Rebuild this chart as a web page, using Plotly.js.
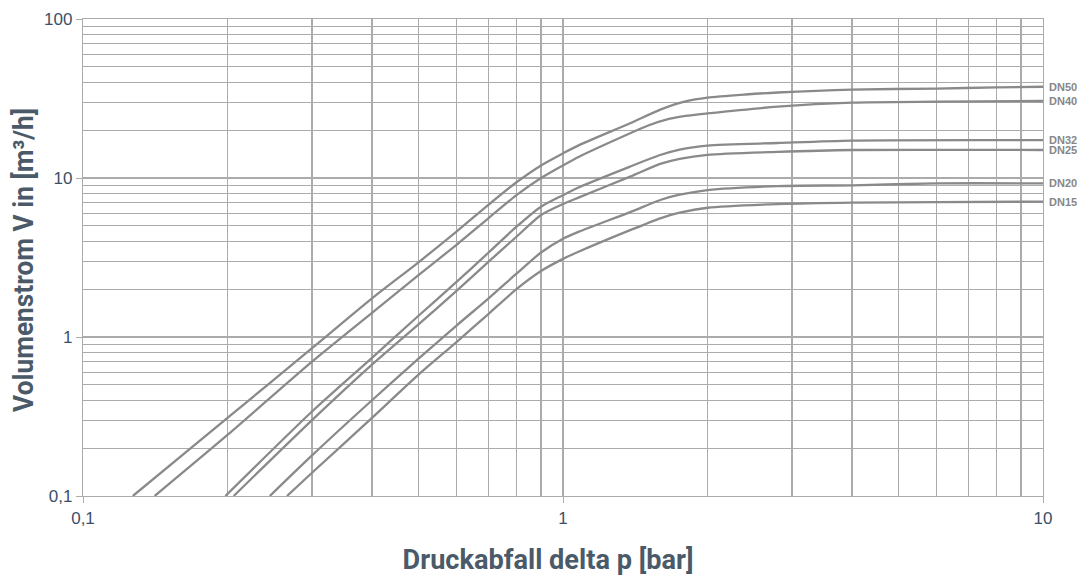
<!DOCTYPE html>
<html>
<head>
<meta charset="utf-8">
<script src="https://cdn.plot.ly/plotly-3.0.1.min.js"></script>
<style>
  html, body { margin: 0; padding: 0; background: #ffffff; }
  #chart { width: 1082px; height: 579px; }
</style>
</head>
<body>
<div id="chart"></div>
<script>
// Series names (label text at the right end of each curve)
const seriesNames = ["DN50", "DN40", "DN32", "DN25", "DN20", "DN15"];

// Druckabfall delta p [bar] (x) and Volumenstrom [m3/h] (y)
const dn50_x = [0.127, 0.2, 0.3, 0.4, 0.5, 0.6, 0.7, 0.8, 0.9, 1.0, 1.08, 1.38, 1.6, 1.8, 2.0, 2.4, 2.8, 4.0, 6.0, 8.0, 10.0];
const dn50_y = [0.1, 0.31, 0.85, 1.75, 2.95, 4.6, 6.8, 9.4, 12.0, 14.3, 16.1, 22.1, 27.0, 30.3, 32.0, 33.5, 34.5, 36.0, 36.5, 37.2, 37.5];

const dn40_x = [0.141, 0.2, 0.3, 0.4, 0.5, 0.6, 0.7, 0.8, 0.9, 1.0, 1.08, 1.38, 1.5, 1.67, 1.8, 2.0, 2.8, 4.0, 6.0, 10.0];
const dn40_y = [0.1, 0.242, 0.70, 1.42, 2.45, 3.8, 5.6, 7.8, 10.0, 12.0, 13.6, 19.1, 21.3, 23.6, 24.6, 25.5, 28.1, 29.8, 30.2, 30.5];

const dn32_x = [0.198, 0.3, 0.4, 0.5, 0.6, 0.7, 0.8, 0.9, 1.0, 1.08, 1.38, 1.6, 1.75, 2.0, 2.8, 4.0, 10.0];
const dn32_y = [0.1, 0.34, 0.74, 1.36, 2.22, 3.4, 4.94, 6.6, 7.8, 8.74, 11.8, 14.0, 15.1, 16.0, 16.6, 17.2, 17.3];

const dn25_x = [0.206, 0.3, 0.4, 0.5, 0.6, 0.7, 0.8, 0.9, 1.0, 1.08, 1.38, 1.6, 1.75, 2.0, 2.8, 4.0, 10.0];
const dn25_y = [0.1, 0.30, 0.67, 1.2, 1.95, 2.98, 4.27, 5.85, 6.86, 7.56, 10.2, 12.3, 13.2, 14.0, 14.6, 15.0, 15.0];

const dn20_x = [0.245, 0.3, 0.4, 0.5, 0.6, 0.7, 0.8, 0.9, 1.0, 1.08, 1.38, 1.6, 1.75, 2.0, 2.8, 4.0, 6.0, 10.0];
const dn20_y = [0.1, 0.18, 0.40, 0.73, 1.18, 1.75, 2.5, 3.4, 4.15, 4.6, 6.1, 7.3, 7.85, 8.4, 8.9, 9.0, 9.25, 9.25];

const dn15_x = [0.266, 0.3, 0.4, 0.5, 0.6, 0.7, 0.8, 0.9, 1.0, 1.08, 1.38, 1.6, 1.75, 2.0, 2.8, 4.0, 6.0, 10.0];
const dn15_y = [0.1, 0.14, 0.31, 0.58, 0.93, 1.4, 2.0, 2.6, 3.1, 3.45, 4.7, 5.6, 6.05, 6.5, 6.85, 7.0, 7.05, 7.1];

// Tick labels
const xTickVals = [0.1, 1, 10];
const xTickText = ["0,1", "1", "10"];
const yTickVals = [0.1, 1, 10, 100];
const yTickText = ["0,1", "1", "10", "100"];
const xMinorVals = [0.2,0.3,0.4,0.5,0.6,0.7,0.8,0.9,2,3,4,5,6,7,8,9];
const yMinorVals = [0.2,0.3,0.4,0.5,0.6,0.7,0.8,0.9,2,3,4,5,6,7,8,9,20,30,40,50,60,70,80,90];

const xTitleText = "Druckabfall delta p [bar]";
const yTitleText = "Volumenstrom V in [m³/h]";

const xs = [dn50_x, dn40_x, dn32_x, dn25_x, dn20_x, dn15_x];
const ys = [dn50_y, dn40_y, dn32_y, dn25_y, dn20_y, dn15_y];

const lineColor = "#8a8a8a";
const gridColor = "#ababab";
const tickFontColor = "#3c5068";
const titleColor = "#4a5a68";

const traces = seriesNames.map((name, i) => ({
  type: "scatter",
  mode: "lines",
  name: name,
  x: xs[i],
  y: ys[i],
  line: { color: lineColor, width: 2.3, shape: "spline", smoothing: 0.7 },
  hoverinfo: "x+y+name"
}));

const annotations = seriesNames.map((name, i) => ({
  x: 1,
  y: Math.log10(ys[i][ys[i].length - 1]),
  xref: "x",
  yref: "y",
  text: "<b>" + name + "</b>",
  showarrow: false,
  xanchor: "left",
  yanchor: "middle",
  xshift: 4,
  font: { family: "Liberation Sans, Arial, sans-serif", size: 11, color: "#878787" }
}));

const axisCommon = {
  type: "log",
  showgrid: true,
  gridcolor: gridColor,
  gridwidth: 1.2,
  showline: true,
  linecolor: gridColor,
  linewidth: 1.2,
  mirror: true,
  zeroline: false,
  ticks: "outside",
  ticklen: 6,
  tickwidth: 1,
  tickcolor: gridColor,
  tickfont: { family: "Liberation Sans, Arial, sans-serif", size: 17, color: tickFontColor }
};

const titleFont = { family: "Roboto, Liberation Sans, sans-serif", size: 28, weight: 700, color: titleColor };

const layout = {
  width: 1082,
  height: 579,
  margin: { l: 83, r: 39, t: 19, b: 83 },
  paper_bgcolor: "#ffffff",
  plot_bgcolor: "#ffffff",
  showlegend: false,
  xaxis: Object.assign({}, axisCommon, {
    range: [-1, 1],
    tickmode: "array",
    tickvals: xTickVals,
    ticktext: xTickText,
    minor: { tickmode: "array", tickvals: xMinorVals, showgrid: true, gridcolor: gridColor, gridwidth: 1.2, ticks: "" },
    title: { text: xTitleText, font: titleFont, standoff: 18 }
  }),
  yaxis: Object.assign({}, axisCommon, {
    range: [-1, 2],
    tickmode: "array",
    tickvals: yTickVals,
    ticktext: yTickText,
    minor: { tickmode: "array", tickvals: yMinorVals, showgrid: true, gridcolor: gridColor, gridwidth: 1.2, ticks: "" },
    title: { text: yTitleText, font: titleFont, standoff: 10 }
  }),
  annotations: annotations
};

// Condense a title horizontally (along its reading direction) and place it
function condenseTitle(sel, targetLen, place) {
  const el = document.querySelector(sel);
  if (!el) return;
  const bb = el.getBBox();
  const s = targetLen / bb.width;
  const x = parseFloat(el.getAttribute("x"));
  const y = parseFloat(el.getAttribute("y"));
  const base = el.getAttribute("transform") || "";
  const inner = base + " translate(" + x + "," + y + ") scale(" + s + ",1) translate(" + (-x) + "," + (-y) + ")";
  el.setAttribute("transform", inner);
  const r = el.getBoundingClientRect();
  const d = place(r);
  el.setAttribute("transform", "translate(" + d[0] + "," + d[1] + ") " + inner);
}

Plotly.newPlot("chart", traces, layout, { displayModeBar: false, staticPlot: true }).then(() => {
  // x title: spans about 403..694 px, caps start near 548
  condenseTitle(".xtitle", 291, r => [548 - (r.left + r.width / 2), 543 - r.top]);
  // y title: spans about 108..412 px vertically, glyphs start near x = 12
  condenseTitle(".ytitle", 304, r => [7 - r.left, 260 - (r.top + r.height / 2)]);
});
</script>
</body>
</html>
